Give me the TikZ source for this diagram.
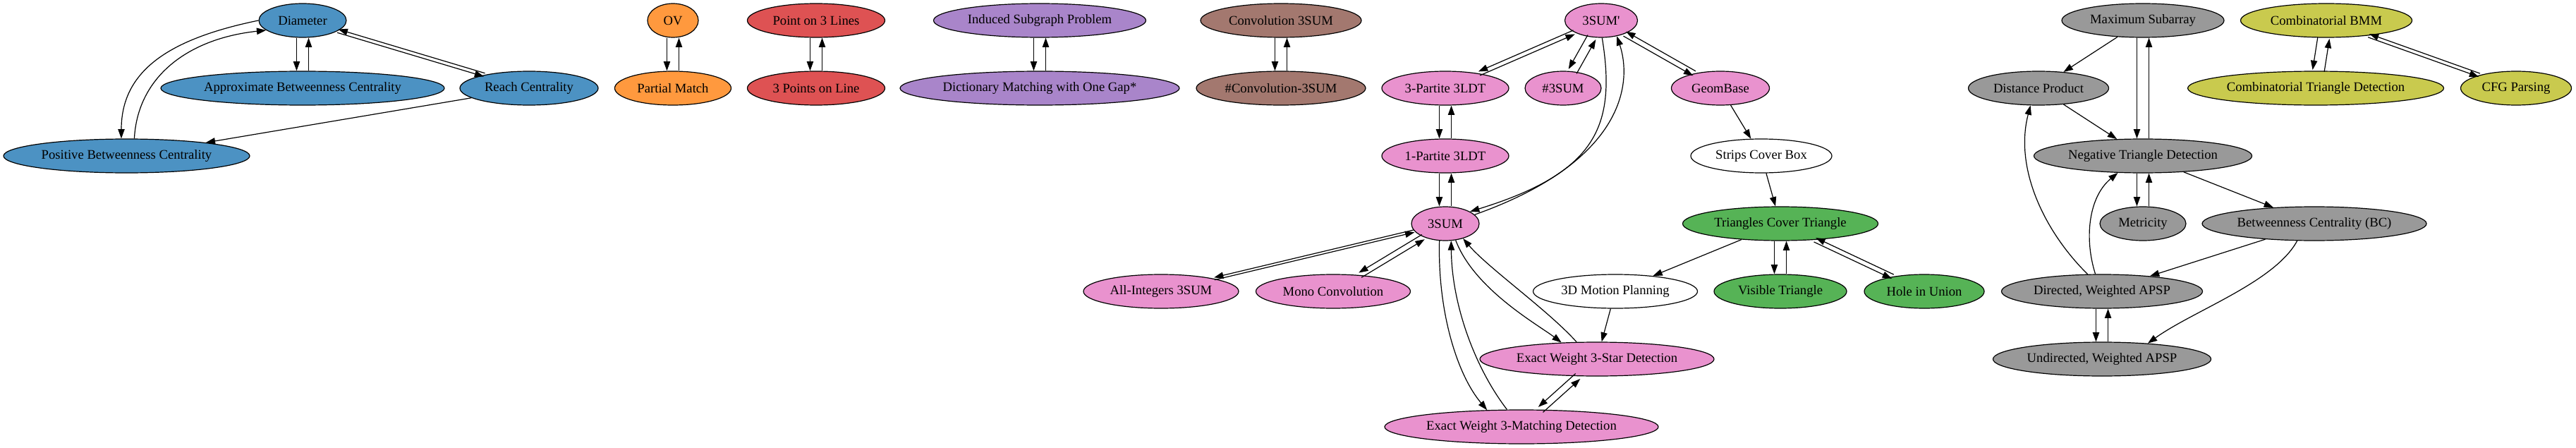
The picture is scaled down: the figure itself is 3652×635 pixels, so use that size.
\documentclass[tikz,border=0pt]{standalone}
\usepackage{fontspec}
\setmainfont{Liberation Serif}
\usetikzlibrary{shapes.geometric,arrows.meta}
\definecolor{cblue}{HTML}{4C92C3}
\definecolor{corange}{HTML}{FF993E}
\definecolor{cred}{HTML}{DE5253}
\definecolor{cpurple}{HTML}{A985CA}
\definecolor{cbrown}{HTML}{A3786F}
\definecolor{cpink}{HTML}{E992CE}
\definecolor{cgreen}{HTML}{56B356}
\definecolor{cgray}{HTML}{999999}
\definecolor{colive}{HTML}{C9CA4E}
\begin{document}
\begin{tikzpicture}[x=0.75pt,y=-0.75pt,
  nd/.style={ellipse, draw=black, line width=0.9pt, inner sep=0pt, minimum height=36pt,
             font=\fontsize{14}{16}\selectfont},
  wd/.style={minimum width=#1*0.75pt},
  arr/.style={draw=black, line width=0.9pt, -{Triangle[length=10pt,width=7pt]}},
  offs/.style 2 args={transform canvas={xshift=#1pt,yshift=#2pt}},
  dn/.style={offs={-6.4}{0}},
  up/.style={offs={6.4}{0}},
]
\useasboundingbox (0,0) rectangle (3652,635);

% blue
\node[nd,fill=cblue,wd=124] (diam) at (429,29) {Diameter};
\node[nd,fill=cblue,wd=402] (abc) at (429,125) {Approximate Betweenness Centrality};
\node[nd,fill=cblue,wd=196] (reach) at (750,125) {Reach Centrality};
\node[nd,fill=cblue,wd=349] (pbc) at (179.5,221) {Positive Betweenness Centrality};
% orange
\node[nd,fill=corange,wd=72] (ov) at (954,29) {OV};
\node[nd,fill=corange,wd=165] (pm) at (954,125) {Partial Match};
% red
\node[nd,fill=cred,wd=195] (p3l) at (1157,29) {Point on 3 Lines};
\node[nd,fill=cred,wd=195] (p3pl) at (1157,125) {3 Points on Line};
% purple
\node[nd,fill=cpurple,wd=301] (isp) at (1474,29) {Induced Subgraph Problem};
\node[nd,fill=cpurple,wd=396] (dmg) at (1474,125) {Dictionary Matching with One Gap*};
% brown
\node[nd,fill=cbrown,wd=228] (conv) at (1816,29) {Convolution 3SUM};
\node[nd,fill=cbrown,wd=240] (sconv) at (1816,125) {\#Convolution-3SUM};
% pink
\node[nd,fill=cpink,wd=103] (s3p) at (2270,29) {3SUM\textquotesingle};
\node[nd,fill=cpink,wd=180] (tp3) at (2049,125) {3-Partite 3LDT};
\node[nd,fill=cpink,wd=108] (h3) at (2216,125) {\#3SUM};
\node[nd,fill=cpink,wd=139] (geom) at (2439,125) {GeomBase};
\node[nd,fill=cpink,wd=180] (op1) at (2049,221) {1-Partite 3LDT};
\node[nd,fill=cpink,wd=96] (s3) at (2049,317) {3SUM};
\node[nd,fill=cpink,wd=220] (ai) at (1646,413) {All-Integers 3SUM};
\node[nd,fill=cpink,wd=219] (mono) at (1890,413) {Mono Convolution};
\node[nd,fill=cpink,wd=332] (star) at (2264,509) {Exact Weight 3-Star Detection};
\node[nd,fill=cpink,wd=388] (match) at (2157,605) {Exact Weight 3-Matching Detection};
% white
\node[nd,fill=white,wd=200] (scb) at (2497,221) {Strips Cover Box};
\node[nd,fill=white,wd=233] (motion) at (2290,413) {3D Motion Planning};
% green
\node[nd,fill=cgreen,wd=277] (tct) at (2524,317) {Triangles Cover Triangle};
\node[nd,fill=cgreen,wd=188] (vis) at (2524,413) {Visible Triangle};
\node[nd,fill=cgreen,wd=170] (hole) at (2728,413) {Hole in Union};
% gray
\node[nd,fill=cgray,wd=230] (maxs) at (3038,29) {Maximum Subarray};
\node[nd,fill=cgray,wd=199] (dp) at (2890,125) {Distance Product};
\node[nd,fill=cgray,wd=309] (ntd) at (3038,221) {Negative Triangle Detection};
\node[nd,fill=cgray,wd=122] (met) at (3038,317) {Metricity};
\node[nd,fill=cgray,wd=318] (bc) at (3281,317) {Betweenness Centrality (BC)};
\node[nd,fill=cgray,wd=285] (dapsp) at (2980,413) {Directed, Weighted APSP};
\node[nd,fill=cgray,wd=309] (uapsp) at (2980,509) {Undirected, Weighted APSP};
% olive
\node[nd,fill=colive,wd=243] (cbmm) at (3298,29) {Combinatorial BMM};
\node[nd,fill=colive,wd=363] (ctd) at (3283,125) {Combinatorial Triangle Detection};
\node[nd,fill=colive,wd=157] (cfg) at (3567,125) {CFG Parsing};

% blue edges
\draw[arr,dn] (diam) -- (abc);
\draw[arr,up] (abc) -- (diam);
\draw[arr,offs={-0.53}{-1.76}] (diam) -- (reach);
\draw[arr,offs={0.53}{1.76}] (reach) -- (diam);
\draw[arr] (diam.180) .. controls (240,55) and (172,100) .. (pbc.107);
\draw[arr] (pbc.66) .. controls (195,110) and (265,55) .. (diam.195);
\draw[arr] (reach) -- (pbc);
% small groups
\draw[arr,dn] (ov) -- (pm);
\draw[arr,up] (pm) -- (ov);
\draw[arr,dn] (p3l) -- (p3pl);
\draw[arr,up] (p3pl) -- (p3l);
\draw[arr,dn] (isp) -- (dmg);
\draw[arr,up] (dmg) -- (isp);
\draw[arr,dn] (conv) -- (sconv);
\draw[arr,up] (sconv) -- (conv);
% pink edges
\draw[arr,offs={-0.89}{2.06}] (s3p) -- (tp3);
\draw[arr,offs={0.89}{-2.06}] (tp3) -- (s3p);
\draw[arr,offs={-4.28}{2.40}] (s3p) -- (h3);
\draw[arr,offs={4.28}{-2.40}] (h3) -- (s3p);
\draw[arr,offs={-1.37}{-2.42}] (s3p) -- (geom);
\draw[arr,offs={1.37}{2.42}] (geom) -- (s3p);
\draw[arr] (s3p.-87) .. controls (2292,180) and (2262,245) .. (s3.26);
\draw[arr] (s3.17) .. controls (2300,230) and (2315,120) .. (s3p.-45);
\draw[arr,dn] (tp3) -- (op1);
\draw[arr,up] (op1) -- (tp3);
\draw[arr,dn] (op1) -- (s3);
\draw[arr,up] (s3) -- (op1);
\draw[arr,offs={-0.30}{1.27}] (s3) -- (ai);
\draw[arr,offs={0.30}{-1.27}] (ai) -- (s3);
\draw[arr,offs={-1.5}{2.49}] (s3) -- (mono);
\draw[arr,offs={1.5}{-2.49}] (mono) -- (s3);
\draw[arr] (s3.-58) .. controls (2090,410) and (2180,460) .. (star.155);
\draw[arr] (star.140) .. controls (2195,440) and (2110,380) .. (s3.-40);
\draw[arr] (s3.-109) .. controls (2038,440) and (2065,530) .. (match.154);
\draw[arr] (match.130) .. controls (2090,520) and (2058,430) .. (s3.-71);
\draw[arr,offs={-2.5}{2.79}] (star) -- (match);
\draw[arr,offs={2.5}{-2.79}] (match) -- (star);
\draw[arr] (geom) -- (scb);
\draw[arr] (scb) -- (tct);
\draw[arr] (tct) -- (motion);
\draw[arr] (motion) -- (star);
\draw[arr,dn] (tct) -- (vis);
\draw[arr,up] (vis) -- (tct);
\draw[arr,offs={-1.02}{-2.18}] (tct) -- (hole);
\draw[arr,offs={1.02}{2.18}] (hole) -- (tct);
% gray edges
\draw[arr] (maxs) -- (dp);
\draw[arr,dn] (maxs) -- (ntd);
\draw[arr,up] (ntd) -- (maxs);
\draw[arr] (dp) -- (ntd);
\draw[arr,dn] (ntd) -- (met);
\draw[arr,up] (met) -- (ntd);
\draw[arr] (ntd) -- (bc);
\draw[arr] (bc) -- (dapsp);
\draw[arr] (bc.-135) .. controls (3225,400) and (3110,440) .. (uapsp.19);
\draw[arr,dn] (dapsp) -- (uapsp);
\draw[arr,up] (uapsp) -- (dapsp);
\draw[arr] (dapsp.130) .. controls (2900,330) and (2855,240) .. (dp.-115);
\draw[arr] (dapsp.111) .. controls (2955,340) and (2960,280) .. (ntd.-146);
% olive edges
\draw[arr,offs={-6.2}{0.98}] (cbmm) -- (ctd);
\draw[arr,offs={6.2}{-0.98}] (ctd) -- (cbmm);
\draw[arr,offs={-0.64}{-1.78}] (cbmm) -- (cfg);
\draw[arr,offs={0.64}{1.78}] (cfg) -- (cbmm);
\end{tikzpicture}
\end{document}
